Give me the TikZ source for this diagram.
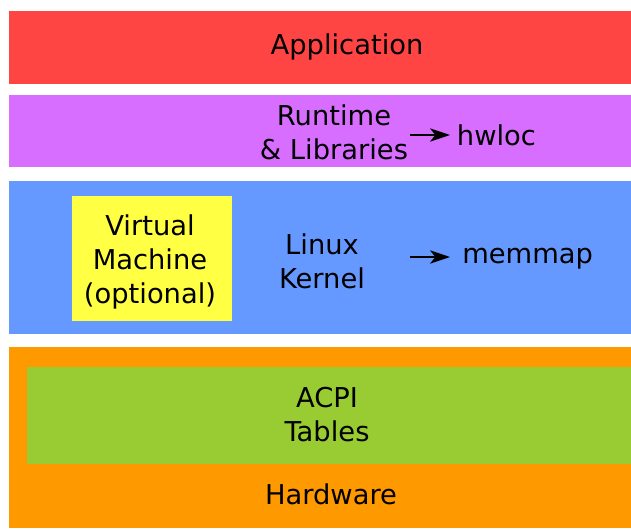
\documentclass[tikz,border=0pt]{standalone}
\usepackage{fontspec}
\setmainfont{DejaVu Sans}
\usetikzlibrary{arrows.meta}
\definecolor{st-app}{HTML}{FF4444}
\definecolor{st-rt}{HTML}{D76EFF}
\definecolor{st-kern}{HTML}{6699FF}
\definecolor{st-vm}{HTML}{FFFF44}
\definecolor{st-hw}{HTML}{FF9900}
\definecolor{st-acpi}{HTML}{99CC33}
\begin{document}
\begin{tikzpicture}[x=0.75pt, y=-0.75pt,
    lbl/.style={align=center, inner sep=0pt, font=\fontsize{20.5}{25.5}\selectfont},
    arr/.style={-{Stealth[length=15pt, width=10pt, inset=4pt]}, line width=1.2pt}]
    \useasboundingbox (0,0) rectangle (631,528);
    \fill[st-app] (9,11) rectangle (631,84);
    \fill[st-rt] (9,95) rectangle (631,167);
    \fill[st-kern] (9,181) rectangle (631,334);
    \fill[st-vm] (72,196) rectangle (232,321);
    \fill[st-hw] (9,347) rectangle (631,528);
    \fill[st-acpi] (27,367) rectangle (631,464);
    \node[lbl] (app) at (347,47) {Application};
    \node[lbl] (rt) at (334,132) {Runtime\\\& Libraries};
    \node[lbl] (kern) at (322,261) {Linux\\Kernel};
    \node[lbl] (vm) at (150,262) {Virtual\\Machine\\(optional)};
    \node[lbl] (acpi) at (327,415) {ACPI\\Tables};
    \node[lbl] (hw) at (331,494) {Hardware};
    \node[lbl, anchor=west, inner xsep=5pt] (hwloc) at (450,135) {hwloc};
    \node[lbl, anchor=west, inner xsep=9pt] (memmap) at (450,259) {memmap};
    \coordinate (rtout) at (410,135);
    \coordinate (kout) at (410,257);
    \draw[arr] (rtout) -- (hwloc.west);
    \draw[arr] (kout) -- (memmap.west |- kout);
\end{tikzpicture}
\end{document}
